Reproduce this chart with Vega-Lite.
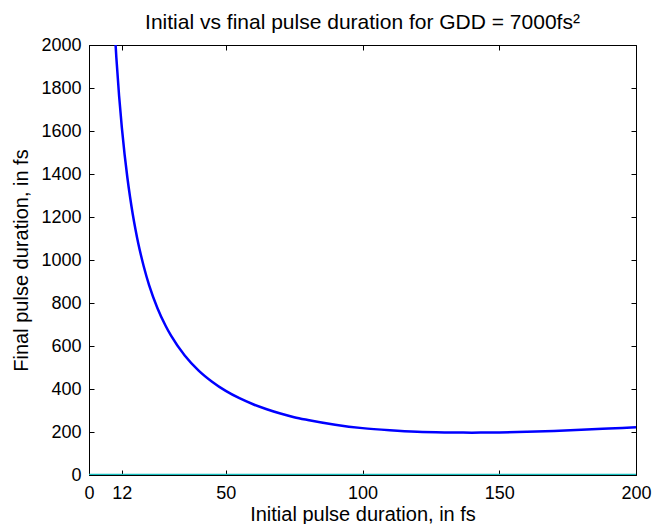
{
  "$schema": "https://vega.github.io/schema/vega-lite/v6.json",
  "autosize": "none",
  "width": 547,
  "height": 430,
  "padding": {"left": 89, "top": 45, "right": 19, "bottom": 49},
  "background": "white",
  "title": {
    "text": "Initial vs final pulse duration for GDD = 7000fs²",
    "font": "Liberation Sans",
    "fontSize": 21,
    "fontWeight": "normal",
    "color": "black",
    "offset": 3
  },
  "config": {
    "view": {"stroke": "black", "strokeWidth": 1},
    "axis": {
      "labelFont": "Liberation Sans",
      "titleFont": "Liberation Sans",
      "labelFontSize": 18,
      "titleFontSize": 20,
      "titleFontWeight": "normal",
      "labelColor": "black",
      "titleColor": "black",
      "domainColor": "black",
      "tickColor": "black",
      "grid": false
    }
  },
  "datasets": {
    "curve": [
      {"tau": 9, "out": 2157},
      {"tau": 10, "out": 1941},
      {"tau": 11, "out": 1764},
      {"tau": 12, "out": 1617},
      {"tau": 13, "out": 1493},
      {"tau": 14, "out": 1386},
      {"tau": 15, "out": 1294},
      {"tau": 16, "out": 1213},
      {"tau": 17, "out": 1142},
      {"tau": 18, "out": 1078},
      {"tau": 19, "out": 1022},
      {"tau": 20, "out": 971},
      {"tau": 22, "out": 882},
      {"tau": 25, "out": 777},
      {"tau": 28, "out": 694},
      {"tau": 30, "out": 648},
      {"tau": 35, "out": 556},
      {"tau": 40, "out": 487},
      {"tau": 45, "out": 434},
      {"tau": 50, "out": 391},
      {"tau": 55, "out": 357},
      {"tau": 60, "out": 329},
      {"tau": 65, "out": 306},
      {"tau": 70, "out": 286},
      {"tau": 75, "out": 269},
      {"tau": 80, "out": 256},
      {"tau": 90, "out": 234},
      {"tau": 100, "out": 218},
      {"tau": 110, "out": 208},
      {"tau": 120, "out": 201},
      {"tau": 130, "out": 198},
      {"tau": 140, "out": 197},
      {"tau": 150, "out": 198},
      {"tau": 160, "out": 201},
      {"tau": 170, "out": 205},
      {"tau": 180, "out": 210},
      {"tau": 190, "out": 216},
      {"tau": 200, "out": 222}
    ],
    "zero": [
      {"tau": 0, "out": 0},
      {"tau": 200, "out": 0}
    ]
  },
  "layer": [
    {
      "data": {"name": "curve"},
      "mark": {"type": "line", "color": "#0000FF", "strokeWidth": 2.5, "clip": true, "interpolate": "monotone"},
      "encoding": {
        "x": {
          "field": "tau", "type": "quantitative",
          "scale": {"domain": [0, 200], "nice": false, "zero": false},
          "axis": {"title": "Initial pulse duration, in fs", "values": [0, 12, 50, 100, 150, 200], "tickSize": -5, "labelPadding": 14, "titlePadding": 2, "labelFlush": false}
        },
        "y": {
          "field": "out", "type": "quantitative",
          "scale": {"domain": [0, 2000], "nice": false},
          "axis": {"title": "Final pulse duration, in fs", "format": "d", "values": [0,200,400,600,800,1000,1200,1400,1600,1800,2000], "tickSize": -5, "labelPadding": 13, "titlePadding": 9, "labelFlush": false}
        }
      }
    },
    {
      "data": {"name": "zero"},
      "mark": {"type": "line", "color": "#17BFBF", "strokeWidth": 2.5, "clip": true},
      "encoding": {
        "x": {
          "field": "tau", "type": "quantitative",
          "axis": {"orient": "top", "title": null, "labels": false, "values": [0, 12, 50, 100, 150, 200], "tickSize": -5, "domain": false}
        },
        "y": {
          "field": "out", "type": "quantitative",
          "axis": {"orient": "right", "title": null, "labels": false, "values": [0,200,400,600,800,1000,1200,1400,1600,1800,2000], "tickSize": -5, "domain": false}
        }
      }
    }
  ],
  "resolve": {"axis": {"x": "independent", "y": "independent"}}
}
